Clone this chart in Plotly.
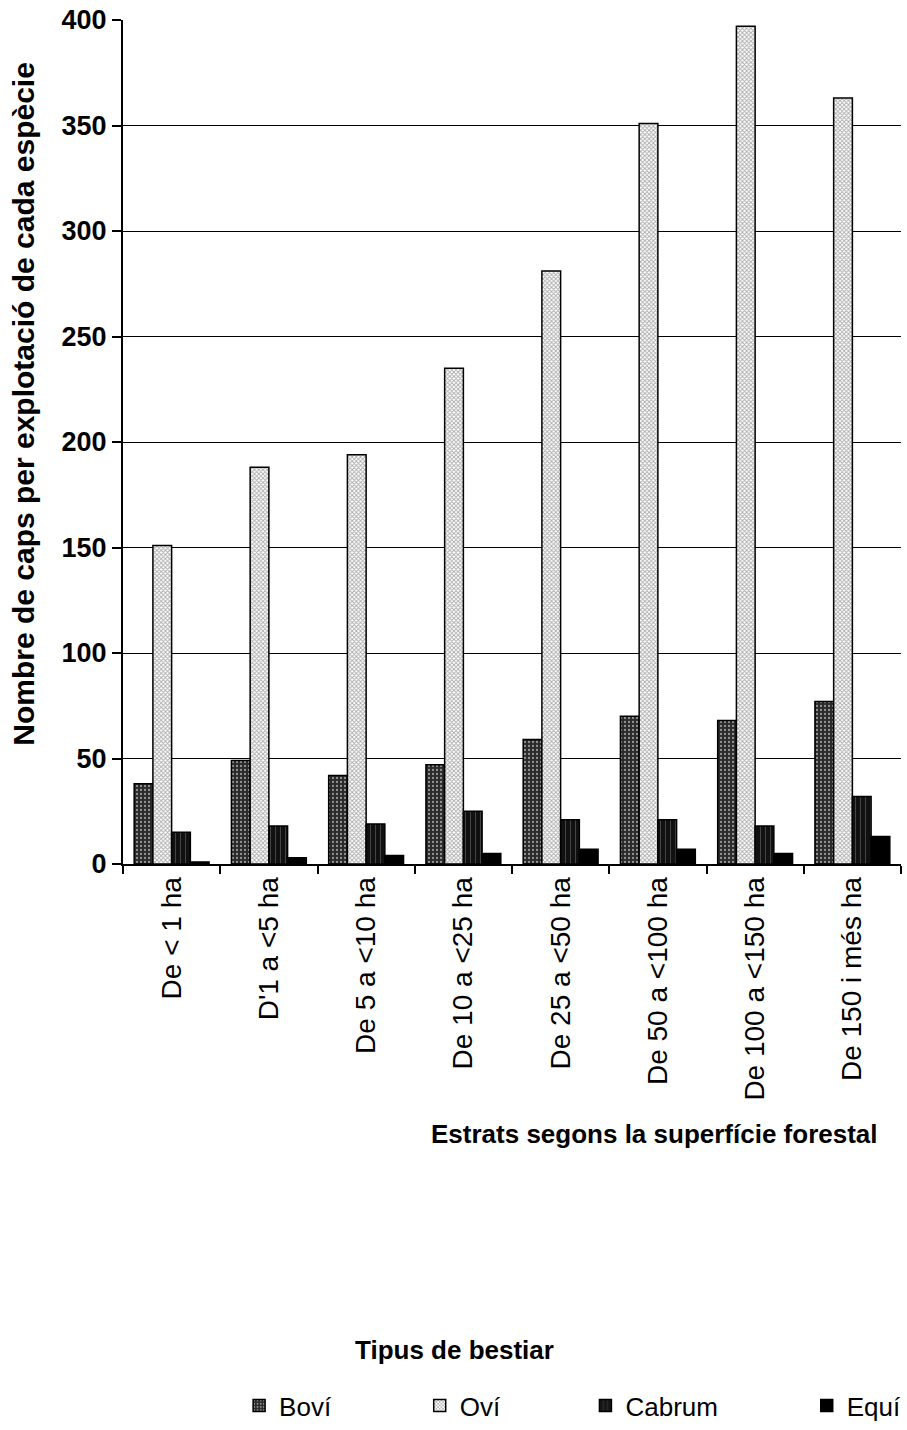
import plotly.graph_objects as go

categories = ["De < 1 ha", "D'1 a <5 ha", "De 5 a <10 ha", "De 10 a <25 ha",
              "De 25 a <50 ha", "De 50 a <100 ha", "De 100 a <150 ha", "De 150 i més ha"]
bovi = [38, 49, 42, 47, 59, 70, 68, 77]
ovi = [151, 188, 194, 235, 281, 351, 397, 363]
cabrum = [15, 18, 19, 25, 21, 21, 18, 32]
equi = [1, 3, 4, 5, 7, 7, 5, 13]
series_names = ["Boví", "Oví", "Cabrum", "Equí"]
y_ticks = [0, 50, 100, 150, 200, 250, 300, 350, 400]

FONT = "Arial, Liberation Sans, sans-serif"

styles = [
    dict(color="#2a2a2a", pattern=dict(shape=".", fgcolor="#ffffff", size=4, solidity=0.25, fillmode="overlay")),
    dict(color="#ffffff", pattern=dict(shape="x", fgcolor="#555555", size=3, solidity=0.5, fillmode="overlay")),
    dict(color="#111111", pattern=dict(shape="|", fgcolor="#bbbbbb", size=5, solidity=0.12, fillmode="overlay")),
    dict(color="#000000"),
]

fig = go.Figure()
legend_ids = ["legend", "legend2", "legend3", "legend4"]
for name, vals, st, lg in zip(series_names, [bovi, ovi, cabrum, equi], styles, legend_ids):
    fig.add_trace(go.Bar(
        x=categories, y=vals, name=name, legend=lg,
        marker=dict(line=dict(color="black", width=1.5), **st),
    ))

W, H = 907, 1430
ml, mr, mt, mb = 123, 0, 20, 566
pw, ph = W - ml - mr, H - mt - mb

def px_x(p):
    return (p - ml) / pw

def px_y(p):
    return (H - mb - p) / ph

legend_pos = [240, 422, 589, 812]
common_leg = dict(orientation="h", xanchor="left", yanchor="bottom", y=px_y(1429),
                  font=dict(family=FONT, size=26, color="black"), bgcolor="rgba(0,0,0,0)",
                  itemwidth=30)
layout_legs = {}
for lg, pxl in zip(legend_ids, legend_pos):
    layout_legs[lg] = dict(x=px_x(pxl), **common_leg)

fig.update_layout(
    width=W, height=H,
    margin=dict(l=ml, r=mr, t=mt, b=mb),
    paper_bgcolor="white", plot_bgcolor="white",
    barmode="group", bargap=0.23, bargroupgap=0.0,
    font=dict(family=FONT, color="black"),
    showlegend=True,
    **layout_legs,
    xaxis=dict(
        type="category", tickson="boundaries", ticks="outside", ticklen=8, tickwidth=1.5,
        tickcolor="black", showline=True, linecolor="black", linewidth=2,
        tickangle=-90, tickfont=dict(family=FONT, size=28, color="black"),
        showgrid=False,
    ),
    yaxis=dict(
        range=[0, 400], tickvals=y_ticks,
        ticks="outside", ticklen=9, tickcolor="black", tickwidth=1.5,
        showline=True, linecolor="black", linewidth=2,
        showgrid=True, gridcolor="black", gridwidth=1,
        zeroline=False,
        tickfont=dict(family=FONT, size=27, color="black", weight="bold"),
    ),
    annotations=[
        dict(text="<b>Nombre de caps per explotació de cada espècie</b>", xref="paper", yref="paper",
             x=px_x(22), y=px_y(404), xanchor="center", yanchor="middle", textangle=-90,
             showarrow=False, font=dict(family=FONT, size=30, color="black")),
        dict(text="<b>Estrats segons la superfície forestal</b>", xref="paper", yref="paper",
             x=px_x(886), y=px_y(1134), xanchor="right", yanchor="middle", showarrow=False,
             font=dict(family=FONT, size=26, color="black")),
        dict(text="<b>Tipus de bestiar</b>", xref="paper", yref="paper",
             x=px_x(457), y=px_y(1350), xanchor="center", yanchor="middle", showarrow=False,
             font=dict(family=FONT, size=26, color="black")),
    ],
)

fig.write_html("out.html", config={"displayModeBar": False},
               post_script="document.body.style.margin='0';document.body.style.overflow='hidden';")
